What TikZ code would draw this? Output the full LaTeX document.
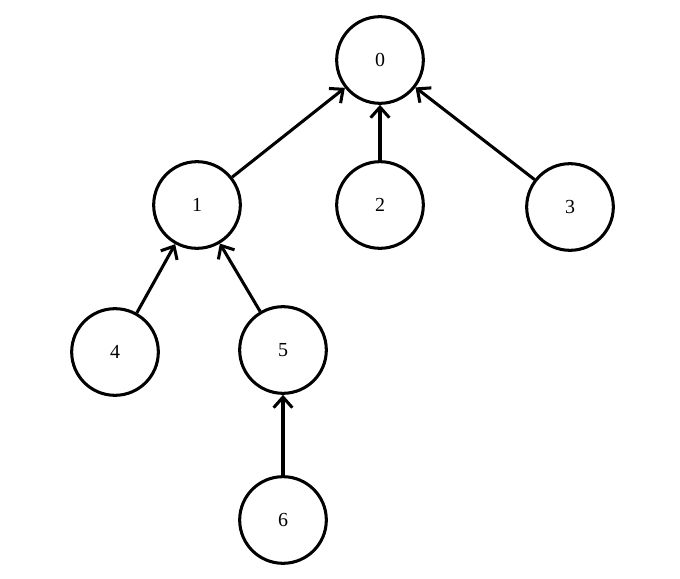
\documentclass[tikz,border=0pt]{standalone}
\usepackage{fontspec}
\setmainfont{Liberation Serif}
\usetikzlibrary{arrows.meta}
\tikzset{
    vertex/.style={circle, draw, line width=2.6pt, minimum size=2.6cm, inner sep=0pt, font=\fontsize{17}{20}\selectfont},
    edge/.style={line width=2.6pt, -{Straight Barb[length=9pt, width=16pt, line width=2.6pt]}}
}
\begin{document}
\begin{tikzpicture}
        \useasboundingbox (0, 0) rectangle (20.4, 17.34);
        \begin{scope}
            \node[vertex] (n0) at (11.4, 15.54) {0};
            \node[vertex] (n1) at (5.91, 11.19) {1};
            \node[vertex] (n2) at (11.4, 11.19) {2};
            \node[vertex] (n3) at (17.1, 11.13) {3};
            \node[vertex] (n4) at (3.45, 6.78) {4};
            \node[vertex] (n5) at (8.49, 6.84) {5};
            \node[vertex] (n6) at (8.49, 1.74) {6};

            \draw[edge] (n1) -- (n0);
            \draw[edge] (n2) -- (n0);
            \draw[edge] (n3) -- (n0);
            \draw[edge] (n4) -- (n1);
            \draw[edge] (n5) -- (n1);
            \draw[edge] (n6) -- (n5);
        \end{scope}
    \end{tikzpicture}
\end{document}
